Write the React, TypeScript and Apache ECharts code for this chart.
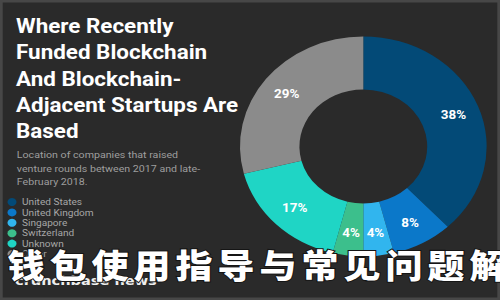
import React, { useEffect, useRef } from 'react';
import * as echarts from 'echarts';

// ---- data ----
const categories = ['United States', 'United Kingdom', 'Singapore', 'Switzerland', 'Unknown', 'Other'];
const shares = [38, 8, 4, 4, 17, 29];
const colors = ['#034a77', '#0b78c9', '#31b5ee', '#3cbf8c', '#1fd5c5', '#8b8b8b'];
const titleLines = ['Where Recently', 'Funded Blockchain', 'And Blockchain-', 'Adjacent Startups Are', 'Based'];
const subtitleLines = ['Location of companies that raised', 'venture rounds between 2017 and late-', 'February 2018.'];
const overlayChars = Array.from('钱包使用指导与常见问题解');
const sourceText = 'crunchbase news';

// the picture is horizontally stretched; draw in a narrower box and stretch it
const W = 446;
const S = 500 / W;

export default function App() {
  const ref = useRef<HTMLDivElement>(null);

  useEffect(() => {
    if (!ref.current) return;
    const chart = echarts.init(ref.current, null, { renderer: 'svg' });

    const overlay = overlayChars.map((ch, i) => ({
      type: 'text',
      z: 100,
      x: (26 + 42 * i) / S,
      y: 263,
      silent: true,
      style: {
        text: ch,
        fill: '#ffffff',
        stroke: '#151515',
        lineWidth: 2,
        fontSize: 33,
        fontWeight: 900,
        fontFamily: '"Noto Sans CJK SC"',
        align: 'center',
        verticalAlign: 'middle',
      },
    }));

    chart.setOption({
      animation: false,
      backgroundColor: '#2a2a2a',
      title: [
        {
          text: titleLines.join('\n'),
          left: 14.3,
          top: 12.7,
          padding: 0,
          textStyle: {
            color: '#ffffff',
            fontSize: 20,
            lineHeight: 26.3,
            fontWeight: 'bold',
            fontFamily: 'Roboto',
          },
        },
        {
          text: subtitleLines.join('\n'),
          left: 15,
          top: 148.5,
          padding: 0,
          textStyle: {
            color: '#9e9e9e',
            fontSize: 9.5,
            lineHeight: 13.3,
            fontWeight: 'normal',
            fontFamily: 'Roboto',
          },
        },
      ],
      legend: {
        data: categories,
        orient: 'vertical',
        left: 6.7,
        top: 197.5,
        padding: 0,
        itemWidth: 8,
        itemHeight: 8,
        itemGap: 1.4,
        icon: 'circle',
        selectedMode: false,
        textStyle: { color: '#a6a6a6', fontSize: 9, fontFamily: 'Roboto' },
      },
      series: [
        {
          type: 'pie',
          center: [363.3 / S, 146.5],
          radius: [57, 110],
          startAngle: 90,
          clockwise: true,
          avoidLabelOverlap: false,
          silent: true,
          itemStyle: { borderWidth: 0 },
          label: {
            show: true,
            position: 'inside',
            formatter: '{c}%',
            color: '#ffffff',
            fontSize: 12,
            fontWeight: 'bold',
            fontFamily: 'Roboto',
          },
          labelLine: { show: false },
          data: categories.map((name, i) => ({ name, value: shares[i], itemStyle: { color: colors[i] } })),
        },
      ],
      graphic: [
        {
          type: 'rect',
          z: 90,
          silent: true,
          shape: { x: 1.2, y: 1.2, width: W - 2.4, height: 297.6 },
          style: { fill: 'none', stroke: '#474747', lineWidth: 2.4 },
        },
        {
          type: 'text',
          z: 50,
          x: 15 / S,
          y: 280,
          silent: true,
          style: {
            text: sourceText,
            fill: '#eeeeee',
            fontSize: 13,
            fontWeight: 'bold',
            fontFamily: '"DejaVu Sans"',
            align: 'left',
            verticalAlign: 'middle',
          },
        },
        ...overlay,
      ],
    });

    return () => chart.dispose();
  }, []);

  return (
    <div
      style={{
        position: 'fixed',
        left: 0,
        top: 0,
        width: 500,
        height: 300,
        overflow: 'hidden',
        background: '#2a2a2a',
      }}
    >
      <div
        ref={ref}
        style={{ width: W, height: 300, transform: `scaleX(${S})`, transformOrigin: '0 0' }}
      />
    </div>
  );
}
